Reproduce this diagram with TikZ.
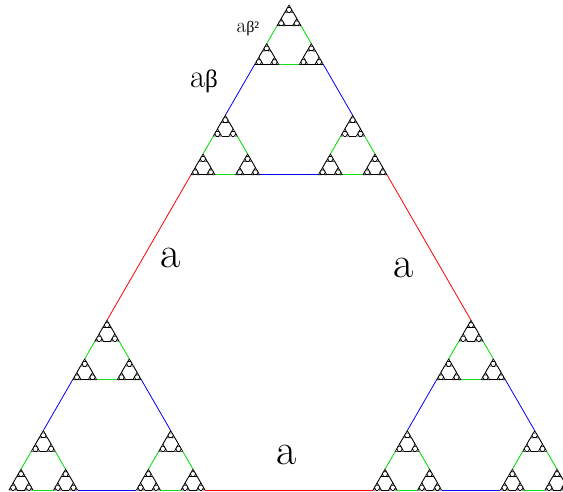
\documentclass[tikz,border=0pt]{standalone}
\usepackage{fontspec}
\newfontfamily\grk{Liberation Serif}
\definecolor{fgreen}{RGB}{20,220,20}
\tikzset{
  biglab/.style={inner sep=0pt,font=\fontsize{44}{44}\selectfont},
  midlab/.style={inner sep=0pt,font=\fontsize{33}{33}\selectfont},
  smalllab/.style={inner sep=0pt,font=\fontsize{21}{21}\selectfont},
}
\newcommand\fractri[4]{%
\begingroup
\pgfmathsetmacro\fa{0.35*#3}%
\pgfmathsetmacro\fh{0.8660254*#3}%
\ifnum#4<6\relax
  \ifcase#4\or\def\fcol{red}\def\flw{0.8pt}\or\def\fcol{blue}\def\flw{0.8pt}\or\def\fcol{fgreen}\def\flw{0.9pt}\else\def\fcol{black}\def\flw{0.9pt}\fi
  \pgfmathsetmacro\xa{#1+\fa}%
  \pgfmathsetmacro\xb{#1+#3-\fa}%
  \draw[draw=\fcol,line width=\flw] (\xa,#2) -- (\xb,#2);
  \pgfmathsetmacro\lxa{#1+0.175*#3}%
  \pgfmathsetmacro\lya{#2+0.35*\fh}%
  \pgfmathsetmacro\lxb{#1+0.325*#3}%
  \pgfmathsetmacro\lyb{#2+0.65*\fh}%
  \draw[draw=\fcol,line width=\flw] (\lxa,\lya) -- (\lxb,\lyb);
  \pgfmathsetmacro\rxa{#1+#3-0.175*#3}%
  \pgfmathsetmacro\rxb{#1+#3-0.325*#3}%
  \draw[draw=\fcol,line width=\flw] (\rxa,\lya) -- (\rxb,\lyb);
  \pgfmathsetmacro\tx{#1+(#3-\fa)/2}%
  \pgfmathsetmacro\ty{#2+0.8660254*(#3-\fa)}%
  \edef\fnext{\the\numexpr#4+1\relax}%
  \edef\fcalls{\noexpand\fractri{#1}{#2}{\fa}{\fnext}\noexpand\fractri{\xb}{#2}{\fa}{\fnext}\noexpand\fractri{\tx}{\ty}{\fa}{\fnext}}%
  \fcalls
\else
  \pgfmathsetmacro\ax{#1+#3/2}%
  \pgfmathsetmacro\ay{#2+\fh}%
  \pgfmathsetmacro\bx{#1+#3}%
  \draw[draw=black,line width=0.7pt,line join=round] (#1,#2) -- (\bx,#2) -- (\ax,\ay) -- cycle;
\fi
\endgroup}
\begin{document}
\begin{tikzpicture}[x=1pt,y=1pt]
\useasboundingbox (0,0) rectangle (563,492);
\fractri{9}{2}{560}{1}
\node[biglab] (la) at (171,234) {a};
\node[biglab] (ra) at (404,224) {a};
\node[biglab] (ba) at (287,37) {a};
\node[midlab] (lb) at (204,411) {a{\grk\fontsize{25}{25}\selectfont β}};
\node[smalllab] (lbb) at (248,463) {a{\grk\fontsize{16}{16}\selectfont β²}};
\end{tikzpicture}
\end{document}
